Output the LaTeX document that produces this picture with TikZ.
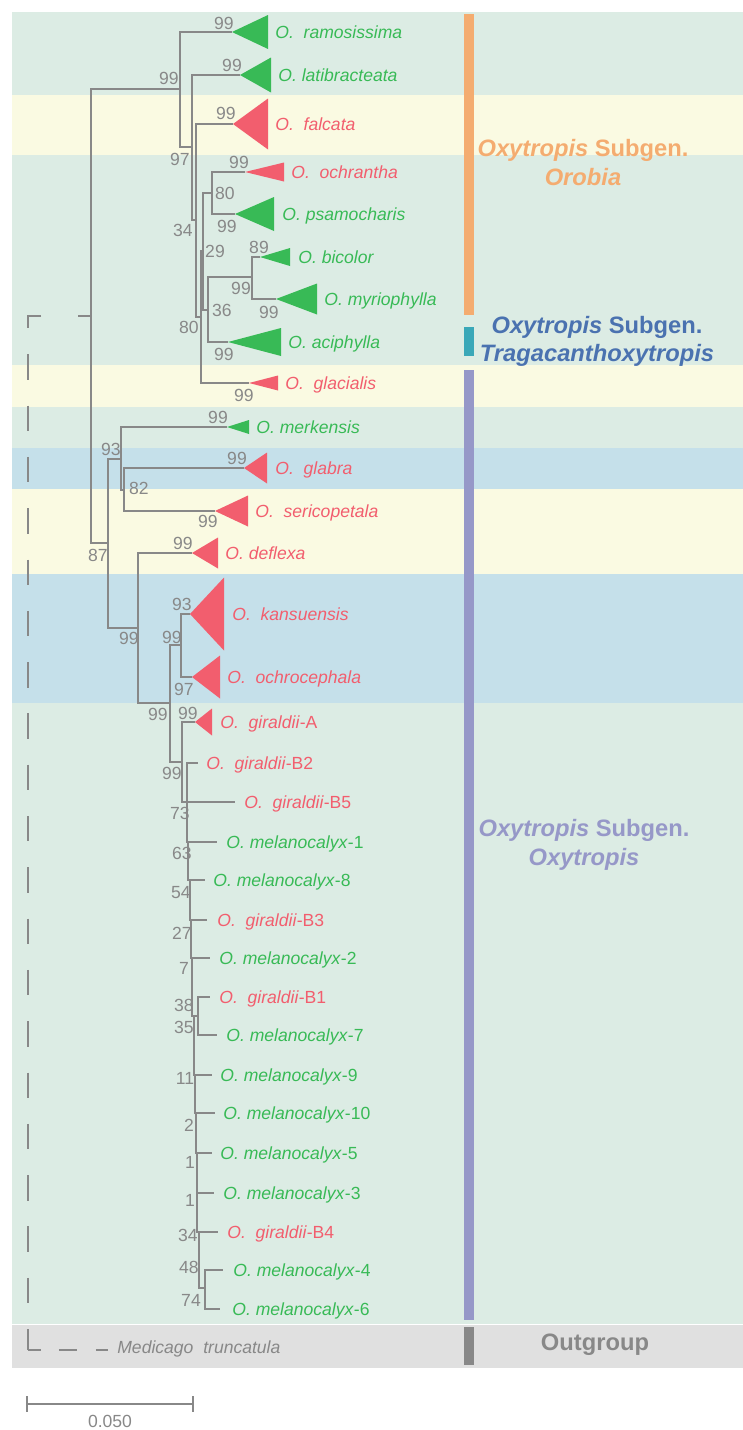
\documentclass[tikz,border=0pt]{standalone}
\usepackage{fontspec}
\setmainfont{Liberation Sans}
\definecolor{bandgreen}{RGB}{220,236,228}
\definecolor{bandyellow}{RGB}{250,250,226}
\definecolor{bandblue}{RGB}{197,224,234}
\definecolor{bandgray}{RGB}{224,224,224}
\definecolor{treegray}{RGB}{136,136,136}
\definecolor{spgreen}{RGB}{56,186,86}
\definecolor{spred}{RGB}{242,94,110}
\definecolor{orobiaor}{RGB}{244,172,112}
\definecolor{tragablue}{RGB}{74,114,176}
\definecolor{tragateal}{RGB}{58,168,184}
\definecolor{oxylav}{RGB}{150,152,200}
\usetikzlibrary{positioning}

\begin{document}
\begin{tikzpicture}[x=0.02cm, y=-0.02cm,
    br/.style={draw=treegray, line width=1.5pt},
    ogline/.style={draw=treegray, line width=1.3pt},
    bs/.style={font=\fontsize{10}{12}\selectfont, text=treegray,
        inner sep=0pt, text height=7.2pt, text depth=0pt},
    spg/.style={font=\fontsize{10}{12}\selectfont\itshape, text=spgreen,
        anchor=west, inner sep=0pt, text height=7.2pt, text depth=0pt},
    spr/.style={spg, text=spred},
    grp/.style={font=\fontsize{13.5}{16.5}\selectfont\bfseries, align=center, inner sep=0pt}
  ]
  \useasboundingbox (0,0) rectangle (743,1430);
  % background bands
  \fill[bandgreen]  (12,12)   rectangle (743,1324);
  \fill[bandyellow] (12,95)   rectangle (743,155);
  \fill[bandyellow] (12,365)  rectangle (743,407);
  \fill[bandblue]   (12,448)  rectangle (743,489);
  \fill[bandyellow] (12,489)  rectangle (743,574);
  \fill[bandblue]   (12,574)  rectangle (743,703);
  \fill[bandgray]   (12,1325) rectangle (743,1368);

  % subgenus bars
  \fill[orobiaor]  (464,14)   rectangle (474,315);
  \fill[tragateal] (464,327)  rectangle (474,356);
  \fill[oxylav]    (464,370)  rectangle (474,1320);
  \fill[treegray]  (464,1327) rectangle (474,1365);

  % internal nodes
  \coordinate (root) at (91,316);
  \coordinate (nA)   at (180,89);
  \coordinate (n97)  at (192,147);
  \coordinate (n34)  at (196,220);
  \coordinate (n80b) at (201,317);
  \coordinate (n29)  at (203,251);
  \coordinate (n80a) at (212,193);
  \coordinate (n36)  at (208,310);
  \coordinate (n99m) at (252,277);
  \coordinate (n87)  at (108,543);
  \coordinate (n93)  at (121,459);
  \coordinate (n82)  at (124,490);
  \coordinate (n99b) at (138,628);
  \coordinate (n99c) at (170,703);
  \coordinate (n99d) at (181,645);
  \coordinate (n99e) at (182,762);
  \coordinate (c1)  at (187,802);
  \coordinate (c2)  at (188,842);
  \coordinate (c3)  at (190,880);
  \coordinate (c4)  at (191,920);
  \coordinate (c5)  at (192,958);
  \coordinate (c6)  at (194,1016);
  \coordinate (cd)  at (198,1016);
  \coordinate (c7)  at (195,1075);
  \coordinate (c8)  at (196,1113);
  \coordinate (c9)  at (197,1153);
  \coordinate (c10) at (197,1193);
  \coordinate (c11) at (199,1232);
  \coordinate (c12) at (202,1288);
  \coordinate (ce)  at (205,1288);

  % collapsed clades (tip, width, height)
  \foreach \nm/\x/\y/\w/\h/\col in {
      tRam/232/32/36/34/spgreen, tLat/240/75/31/35/spgreen,
      tFal/233/124/35/51/spred,  tOch/245/172/39/19/spred,
      tPsa/235/214/39/34/spgreen, tBic/260/257/30/18/spgreen,
      tMyr/276/299/41/31/spgreen, tAci/228/342/53/28/spgreen,
      tGla/249/383/29/15/spred,  tMer/227/427/22/14/spgreen,
      tGlb/244/468/23/31/spred,  tSer/215/511/33/31/spred,
      tDef/192/553/26/31/spred,  tKan/190/614/34/73/spred,
      tOcp/192/677/28/43/spred,  tGiA/195/722/17/27/spred}{
    \coordinate (\nm) at (\x,\y);
    \fill[\col] (\nm) -- ++(\w,-\h/2) -- ++(0,\h) -- cycle;
  }

  % leaf ends
  \coordinate (lB2)  at (198,763);
  \coordinate (lB5)  at (235,802);
  \coordinate (lM1)  at (217,842);
  \coordinate (lM8)  at (205,880);
  \coordinate (lB3)  at (207,920);
  \coordinate (lM2)  at (210,958);
  \coordinate (lB1)  at (210,997);
  \coordinate (lM7)  at (217,1035);
  \coordinate (lM9)  at (212,1075);
  \coordinate (lM10) at (215,1113);
  \coordinate (lM5)  at (212,1153);
  \coordinate (lM3)  at (214,1193);
  \coordinate (lB4)  at (218,1232);
  \coordinate (lM4)  at (223,1270);
  \coordinate (lM6)  at (220,1309);

  % branches
  \foreach \p/\c in {root/nA, root/n87, nA/tRam, nA/n97, n97/tLat, n97/n34,
      n34/tFal, n34/n80b, n80b/n29, n80b/tGla, n29/n80a, n29/n36,
      n80a/tOch, n80a/tPsa, n36/n99m, n36/tAci, n99m/tBic, n99m/tMyr,
      n87/n93, n87/n99b, n93/tMer, n93/n82, n82/tGlb, n82/tSer,
      n99b/tDef, n99b/n99c, n99c/n99d, n99c/n99e, n99d/tKan, n99d/tOcp,
      n99e/tGiA, n99e/c1, c1/lB2, c1/lB5, c1/c2, c2/lM1, c2/c3, c3/lM8,
      c3/c4, c4/lB3, c4/c5, c5/lM2, c5/c6, c6/cd, cd/lB1, cd/lM7, c6/c7,
      c7/lM9, c7/c8, c8/lM10, c8/c9, c9/lM5, c9/c10, c10/lM3, c10/c11,
      c11/lB4, c11/c12, c12/ce, ce/lM4, ce/lM6}
    \draw[br] (\p) |- (\c);

  % outgroup (dashed)
  \coordinate (ogStub)  at (78,316);
  \coordinate (ogStart) at (41,316);
  \coordinate (ogTop)   at (28,316);
  \coordinate (ogBot)   at (28,1350);
  \coordinate (ogEnd)   at (108,1350);
  \draw[br] (root) -- (ogStub);
  \draw[ogline, dash pattern=on 14.46pt off 14.74pt]
    (ogStart) -- (ogTop) -- (ogBot);
  \draw[ogline, dash pattern=on 7.4pt off 10.2pt on 10.2pt off 10.8pt on 6.8pt off 50pt]
    (ogBot) -- (ogEnd);
  \node[spg, text=treegray] (medi) at (117,1347) {Medicago~~truncatula};

  % species labels
  \node[spg] (sRam) at (275,32)  {O.~~ramosissima};
  \node[spg] (sLat) at (278,75)  {O. latibracteata};
  \node[spr] (sFal) at (275,124) {O.~~falcata};
  \node[spr] (sOch) at (291,172) {O.~~ochrantha};
  \node[spg] (sPsa) at (282,214) {O. psamocharis};
  \node[spg] (sBic) at (298,257) {O. bicolor};
  \node[spg] (sMyr) at (324,299) {O. myriophylla};
  \node[spg] (sAci) at (288,342) {O. aciphylla};
  \node[spr] (sGla) at (285,383) {O.~~glacialis};
  \node[spg] (sMer) at (256,427) {O. merkensis};
  \node[spr] (sGlb) at (275,468) {O.~~glabra};
  \node[spr] (sSer) at (255,511) {O.~~sericopetala};
  \node[spr] (sDef) at (225,553) {O. deflexa};
  \node[spr] (sKan) at (232,614) {O.~~kansuensis};
  \node[spr] (sOcp) at (227,677) {O.~~ochrocephala};
  \node[spr] (sGiA) at (220,722) {O.~~giraldii\textup{-A}};
  \node[spr] (sB2)  at (206,763) {O.~~giraldii\textup{-B2}};
  \node[spr] (sB5)  at (244,802) {O.~~giraldii\textup{-B5}};
  \node[spg] (sM1)  at (226,842) {O. melanocalyx\textup{-1}};
  \node[spg] (sM8)  at (213,880) {O. melanocalyx\textup{-8}};
  \node[spr] (sB3)  at (217,920) {O.~~giraldii\textup{-B3}};
  \node[spg] (sM2)  at (219,958) {O. melanocalyx\textup{-2}};
  \node[spr] (sB1)  at (219,997) {O.~~giraldii\textup{-B1}};
  \node[spg] (sM7)  at (226,1035) {O. melanocalyx\textup{-7}};
  \node[spg] (sM9)  at (220,1075) {O. melanocalyx\textup{-9}};
  \node[spg] (sM10) at (223,1113) {O. melanocalyx\textup{-10}};
  \node[spg] (sM5)  at (220,1153) {O. melanocalyx\textup{-5}};
  \node[spg] (sM3)  at (223,1193) {O. melanocalyx\textup{-3}};
  \node[spr] (sB4)  at (227,1232) {O.~~giraldii\textup{-B4}};
  \node[spg] (sM4)  at (233,1270) {O. melanocalyx\textup{-4}};
  \node[spg] (sM6)  at (232,1309) {O. melanocalyx\textup{-6}};

  % bootstrap values
  \foreach [count=\i] \x/\y/\t in {224/23/99, 169/78/99, 232/65/99, 180/159/97,
      226/113/99, 183/230/34, 239/162/99, 225/193/80, 227/226/99, 215/251/29,
      259/247/89, 241/288/99, 269/312/99, 222/310/36, 189/327/80, 224/354/99,
      244/395/99, 218/417/99, 111/449/93, 237/458/99, 139/488/82, 208/521/99,
      98/555/87, 183/543/99, 182/604/93, 172/637/99, 129/638/99, 184/689/97,
      158/714/99, 188/713/99, 172/773/99, 180/813/73, 182/853/63, 181/892/54,
      182/933/27, 184/968/7, 184/1005/38, 184/1027/35, 185/1078/11, 189/1125/2,
      190/1162/1, 190/1200/1, 188/1235/34, 189/1267/48, 191/1300/74}
    \node[bs] (bv\i) at (\x,\y) {\t};

  % subgenus labels
  \node[grp, text=orobiaor]  (gOro) at (583,163)
    {\textit{Oxytropis} Subgen.\\\textit{Orobia}};
  \node[grp, text=tragablue, font=\fontsize{13.5}{15.8}\selectfont\bfseries]
    (gTra) at (597,341) {\textit{Oxytropis} Subgen.\\\textit{Tragacanthoxytropis}};
  \node[grp, text=oxylav]    (gOxy) at (584,845)
    {\textit{Oxytropis} Subgen.\\\textit{Oxytropis}};
  \node[grp, text=treegray]  (gOut) at (595,1345) {Outgroup};

  % scale bar
  \coordinate (sbL) at (27,1404);
  \coordinate (sbR) at (193,1404);
  \draw[draw=treegray, line width=1pt] (sbL) -- (sbR);
  \draw[draw=treegray, line width=1pt] (sbL) ++(0,-8) -- ++(0,16);
  \draw[draw=treegray, line width=1pt] (sbR) ++(0,-8) -- ++(0,16);
  \node[bs] (sbLab) at (110,1421) {0.050};
\end{tikzpicture}
\end{document}
